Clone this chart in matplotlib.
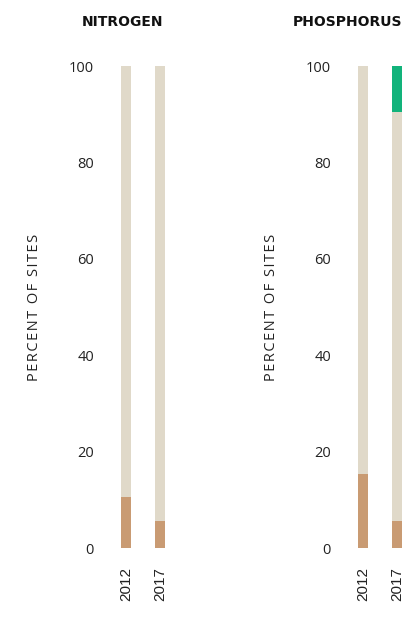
import matplotlib
matplotlib.use("Agg")
import matplotlib.pyplot as plt

years = ["2012", "2017"]
panels = ["NITROGEN", "PHOSPHORUS"]
# percent of sites per category (bottom to top)
poor = {"NITROGEN": [10.5, 5.6], "PHOSPHORUS": [15.4, 5.6]}
fair = {"NITROGEN": [89.5, 94.4], "PHOSPHORUS": [84.6, 84.9]}
good = {"NITROGEN": [0, 0], "PHOSPHORUS": [0, 9.5]}
ylab = "PERCENT OF SITES"

c_poor = "#C99B73"
c_fair = "#E0D9C9"
c_good = "#12B37B"
txt = "#222222"
fams = ["Open Sans", "DejaVu Sans"]

fig = plt.figure(figsize=(4.14, 6.28), dpi=100)
W, H = 414, 628

lefts = [105, 342]
title_x = [0.24, 0.07]
for i, name in enumerate(panels):
    ax = fig.add_axes([lefts[i] / W, 80 / H, 72 / W, 482 / H])
    x = range(len(years))
    p = poor[name]
    f = fair[name]
    g = good[name]
    ax.bar(x, p, width=0.32, color=c_poor)
    ax.bar(x, f, width=0.32, bottom=p, color=c_fair)
    ax.bar(x, g, width=0.32, bottom=[a + b for a, b in zip(p, f)], color=c_good)
    ax.set_xlim(-0.62, 1.5)
    ax.set_ylim(0, 100)
    ax.set_yticks([0, 20, 40, 60, 80, 100])
    ax.set_xticks(list(x))
    ax.set_xticklabels(years, rotation=90, fontsize=11, color="#222222",
                       family="Liberation Sans")
    ax.tick_params(axis="x", length=0, pad=14)
    ax.tick_params(axis="y", length=0, pad=8, labelsize=10.5, labelcolor=txt)
    for lab in ax.get_yticklabels():
        lab.set_family("Open Sans")
    for s in ax.spines.values():
        s.set_visible(False)
    # hair spaces give the letter tracking of the original
    ax.set_ylabel("\u200a".join(ylab), fontsize=10.5, color=txt,
                  family=fams, labelpad=19)
    ax.set_title(name, fontsize=10, fontweight="bold", color="#111111",
                 family="DejaVu Sans", pad=29, x=title_x[i])

fig.savefig("out.png", dpi=100)
